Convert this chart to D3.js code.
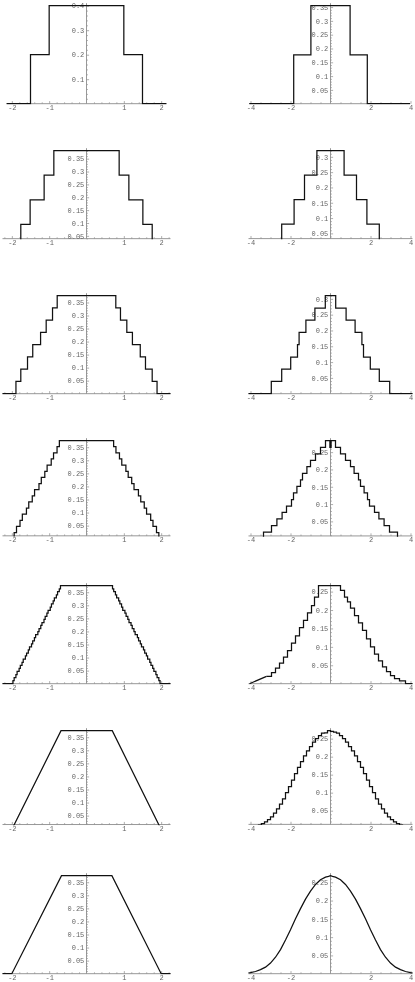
<!DOCTYPE html>
<html><head><meta charset="utf-8">
<script src="https://cdn.jsdelivr.net/npm/d3@7"></script>
<style>body{margin:0;background:#fff}svg{display:block;filter:grayscale(100%)}</style>
</head><body>
<svg id="c" width="415" height="982"></svg>
<script>
// ---------- tick labels ----------
const xTicksLeft = [-2, -1, 1, 2];
const xTicksRight = [-4, -2, 2, 4];
const yTicksRow1Left = [0.1, 0.2, 0.3, 0.4];
const yTicksStd = [0.05, 0.1, 0.15, 0.2, 0.25, 0.3, 0.35];

// ---------- where each x-axis crosses, per row ----------
const axisLevelLeft  = [0, 0.039, 0, 0.011, 0, 0.016, 0];
const axisLevelRight = [0, 0.033, 0, 0.008, 0, 0.012, 0];
const xExtentLeft  = [[-2.14, 2.14], [-2.25, 2.25], [-2.25, 2.25], [-2.25, 2.25], [-2.25, 2.25], [-2.25, 2.25], [-2.25, 2.25]];
const xExtentRight = [[-4.06, 3.98], [-4.1, 4.1], [-4.1, 4.1], [-4.1, 4.1], [-4.1, 4.1], [-4.1, 4.1], [-4.1, 4.1]];

// ---------- left column (step breakpoints x, level starting at x) ----------
const r1Lx = [-2.14, -1.5, -1, 1, 1.5, 2.14];
const r1Ly = [0, 0.2, 0.4, 0.2, 0, 0];
const r2Lx = [-2.25, -1.76, -1.51, -1.135, -0.875, 0.875, 1.135, 1.51, 1.76, 2.25];
const r2Ly = [0, 0.095, 0.19, 0.286, 0.381, 0.286, 0.19, 0.095, 0, 0];
const r3Lx = [-2.25, -1.89, -1.76, -1.58, -1.44, -1.23, -1.08, -0.91, -0.785, 0.785, 0.91, 1.08, 1.23, 1.44, 1.58, 1.76, 1.89, 2.25];
const r3Ly = [0, 0.047, 0.094, 0.141, 0.188, 0.235, 0.282, 0.329, 0.376, 0.329, 0.282, 0.235, 0.188, 0.141, 0.094, 0.047, 0, 0];
const r4Lx = [-2.25, -1.938, -1.875, -1.781, -1.719, -1.609, -1.547, -1.453, -1.391, -1.273, -1.211, -1.117, -1.055, -0.945, -0.883, -0.789, -0.727,
  0.727, 0.789, 0.883, 0.945, 1.055, 1.117, 1.211, 1.273, 1.391, 1.453, 1.547, 1.609, 1.719, 1.781, 1.875, 1.938, 2.25];
const r4Ly = [0, 0.023, 0.047, 0.070, 0.094, 0.117, 0.141, 0.164, 0.188, 0.211, 0.235, 0.258, 0.282, 0.305, 0.328, 0.352, 0.375,
  0.352, 0.328, 0.305, 0.282, 0.258, 0.235, 0.211, 0.188, 0.164, 0.141, 0.117, 0.094, 0.070, 0.047, 0.023, 0, 0];
const r5Lx = [-2.25, -1.969, -1.938, -1.891, -1.859, -1.805, -1.773, -1.727, -1.695, -1.637, -1.605, -1.559, -1.527, -1.473, -1.441, -1.395, -1.363,
  -1.303, -1.271, -1.225, -1.193, -1.139, -1.107, -1.061, -1.029, -0.971, -0.939, -0.893, -0.861, -0.807, -0.775, -0.729, -0.697,
  0.697, 0.729, 0.775, 0.807, 0.861, 0.893, 0.939, 0.971, 1.029, 1.061, 1.107, 1.139, 1.193, 1.225, 1.271, 1.303,
  1.363, 1.395, 1.441, 1.473, 1.527, 1.559, 1.605, 1.637, 1.695, 1.727, 1.773, 1.805, 1.859, 1.891, 1.938, 1.969, 2.25];
const r5Ly = [0, 0.012, 0.023, 0.035, 0.047, 0.059, 0.070, 0.082, 0.094, 0.106, 0.117, 0.129, 0.141, 0.152, 0.164, 0.176, 0.188,
  0.199, 0.211, 0.223, 0.234, 0.246, 0.258, 0.270, 0.281, 0.293, 0.305, 0.317, 0.328, 0.340, 0.352, 0.363, 0.375,
  0.363, 0.352, 0.340, 0.328, 0.317, 0.305, 0.293, 0.281, 0.270, 0.258, 0.246, 0.234, 0.223, 0.211, 0.199, 0.188,
  0.176, 0.164, 0.152, 0.141, 0.129, 0.117, 0.106, 0.094, 0.082, 0.070, 0.059, 0.047, 0.035, 0.023, 0.012, 0, 0];
const r6Lx = [-2.25, -1.99, -0.683, 0.69, 1.99, 2.25];
const r6Ly = [0, 0, 0.375, 0.375, 0, 0];
const r7Lx = [-2.25, -2.0, -0.67, 0.68, 2.0, 2.25];
const r7Ly = [0, 0, 0.375, 0.375, 0, 0];

// ---------- right column ----------
const r1Rx = [-4.06, -1.84, -0.98, 0.98, 1.84, 3.98];
const r1Ry = [0, 0.177, 0.355, 0.177, 0, 0];
const r2Rx = [-4.1, -2.44, -1.82, -1.30, -0.68, 0.68, 1.30, 1.82, 2.44, 4.1];
const r2Ry = [0, 0.08, 0.16, 0.24, 0.32, 0.24, 0.16, 0.08, 0, 0];
const r3Rx = [-4.1, -2.96, -2.44, -1.99, -1.65, -1.57, -1.23, -0.78, -0.26, 0.26, 0.78, 1.23, 1.57, 1.65, 1.99, 2.44, 2.96, 4.1];
const r3Ry = [0, 0.039, 0.078, 0.116, 0.155, 0.194, 0.233, 0.271, 0.31, 0.271, 0.233, 0.194, 0.155, 0.116, 0.078, 0.039, 0, 0];
const r4Rx = [-4.1, -3.35, -2.95, -2.68, -2.42, -2.2, -1.95, -1.85, -1.68, -1.5, -1.4, -1.18, -1.0, -0.75, -0.5, -0.25, -0.03,
  0.03, 0.25, 0.5, 0.75, 1.0, 1.18, 1.4, 1.5, 1.68, 1.85, 1.95, 2.2, 2.42, 2.68, 2.95, 3.35, 4.1];
const r4Ry = [0, 0.019, 0.038, 0.057, 0.076, 0.094, 0.113, 0.132, 0.151, 0.17, 0.189, 0.208, 0.226, 0.245, 0.264, 0.283, 0.264,
  0.283, 0.264, 0.245, 0.226, 0.208, 0.189, 0.17, 0.151, 0.132, 0.113, 0.094, 0.076, 0.057, 0.038, 0.019, 0, 0];
const r5RtailX = [-4.05, -3.2];
const r5RtailY = [0, 0.02];
const r5Rx = [-3.2, -2.95, -2.75, -2.55, -2.35, -2.15, -1.95, -1.75, -1.55, -1.35, -1.15, -0.95, -0.8, -0.6,
  0.5, 0.7, 0.85, 1.0, 1.2, 1.4, 1.6, 1.8, 2.0, 2.2, 2.4, 2.6, 2.8, 3.0, 3.2, 3.45, 3.75, 4.1];
const r5Ry = [0.02, 0.03, 0.042, 0.056, 0.072, 0.09, 0.11, 0.13, 0.152, 0.172, 0.192, 0.212, 0.235, 0.266,
  0.253, 0.235, 0.222, 0.205, 0.185, 0.165, 0.145, 0.122, 0.1, 0.08, 0.062, 0.046, 0.033, 0.022, 0.014, 0.008, 0, 0];
const r6Rx = [-4.1, -3.9, -3.75, -3.6, -3.45, -3.3, -3.15, -3.0, -2.85, -2.7, -2.55, -2.4, -2.25, -2.1, -1.95, -1.8, -1.65, -1.5,
  -1.35, -1.2, -1.05, -0.9, -0.75, -0.6, -0.45, -0.3, -0.15, 0, 0.15, 0.3, 0.45, 0.6, 0.75, 0.9, 1.05, 1.2, 1.35, 1.5,
  1.65, 1.8, 1.95, 2.1, 2.25, 2.4, 2.55, 2.7, 2.85, 3.0, 3.15, 3.3, 3.45, 3.6, 3.75, 3.9, 4.1];
const r6Ry = [0.003, 0.005, 0.007, 0.010, 0.014, 0.019, 0.025, 0.033, 0.043, 0.055, 0.068, 0.083, 0.1, 0.117, 0.135, 0.153, 0.17, 0.186,
  0.202, 0.216, 0.228, 0.24, 0.25, 0.258, 0.265, 0.266, 0.272, 0.27, 0.268, 0.265, 0.258, 0.25, 0.24, 0.228, 0.216, 0.202, 0.186, 0.17,
  0.153, 0.135, 0.117, 0.1, 0.083, 0.068, 0.055, 0.043, 0.033, 0.025, 0.019, 0.014, 0.010, 0.007, 0.005, 0.003, 0.003];
const r7Rx = [-4.1, -4.0, -3.75, -3.5, -3.25, -3.0, -2.75, -2.5, -2.25, -2.0, -1.75, -1.5, -1.25, -1.0, -0.75, -0.5, -0.25, -0.1, 0,
  0.1, 0.25, 0.5, 0.75, 1.0, 1.25, 1.5, 1.75, 2.0, 2.25, 2.5, 2.75, 3.0, 3.25, 3.5, 3.75, 4.0, 4.1];
const r7Ry = [0.002, 0.003, 0.006, 0.011, 0.018, 0.029, 0.045, 0.066, 0.092, 0.12, 0.15, 0.178, 0.204, 0.226, 0.244, 0.257, 0.264, 0.266, 0.268,
  0.266, 0.264, 0.257, 0.244, 0.226, 0.204, 0.178, 0.15, 0.12, 0.092, 0.066, 0.045, 0.029, 0.018, 0.011, 0.006, 0.003, 0.002];

// ---------- panel table ----------
const leftSeries = [[r1Lx, r1Ly, 'step'], [r2Lx, r2Ly, 'step'], [r3Lx, r3Ly, 'step'], [r4Lx, r4Ly, 'step'],
  [r5Lx, r5Ly, 'step'], [r6Lx, r6Ly, 'linear'], [r7Lx, r7Ly, 'linear']];
const rightSeries = [[r1Rx, r1Ry, 'step'], [r2Rx, r2Ry, 'step'], [r3Rx, r3Ry, 'step'], [r4Rx, r4Ry, 'step'],
  [r5Rx, r5Ry, 'step'], [r6Rx, r6Ry, 'step'], [r7Rx, r7Ry, 'linear']];

const panels = [];
for (let r = 0; r < 7; r++) {
  panels.push({col: 0, row: r, xs: leftSeries[r][0], ys: leftSeries[r][1], kind: leftSeries[r][2],
    axisLevel: axisLevelLeft[r], xExt: xExtentLeft[r], xTicks: xTicksLeft, minorX: 0.2,
    yTicks: r === 0 ? yTicksRow1Left : yTicksStd, minorY: r === 0 ? 0.02 : 0.01});
  panels.push({col: 1, row: r, xs: rightSeries[r][0], ys: rightSeries[r][1], kind: rightSeries[r][2],
    axisLevel: axisLevelRight[r], xExt: xExtentRight[r], xTicks: xTicksRight, minorX: 0.5,
    yTicks: yTicksStd, minorY: 0.01,
    tail: r === 4 ? [r5RtailX, r5RtailY] : null});
}

// ---------- drawing ----------
const svg = d3.select('#c');
const ROW_TOP0 = 5.7, ROW_PITCH = 145, PLOT_H = 98;
const AXIS_COLOR = '#8c8c8c', LABEL_COLOR = '#666666';
const FONT = '"Liberation Mono", "DejaVu Sans Mono", monospace';

function styleAxis(g) {
  g.select('.domain').remove();
  g.selectAll('.tick line').attr('stroke', AXIS_COLOR).attr('stroke-width', 0.7);
  g.selectAll('.tick text').attr('fill', LABEL_COLOR).attr('font-family', FONT).attr('font-size', 7);
}

panels.forEach((p, i) => {
  const top = ROW_TOP0 + ROW_PITCH * p.row;
  const x = p.col === 0
    ? d3.scaleLinear().domain([-2, 2]).range([11.84, 161.16])
    : d3.scaleLinear().domain([-4, 4]).range([250.5, 410.5]);
  const yMax = d3.max(p.ys);
  const y = d3.scaleLinear().domain([0, yMax]).range([top + PLOT_H, top]);
  const ya = y(p.axisLevel);
  const g = svg.append('g');

  // axis lines
  g.append('line').attr('x1', x(p.xExt[0])).attr('x2', x(p.xExt[1])).attr('y1', ya).attr('y2', ya)
    .attr('stroke', AXIS_COLOR).attr('stroke-width', 0.9);
  g.append('line').attr('x1', x(0)).attr('x2', x(0)).attr('y1', ya).attr('y2', top - 2.5)
    .attr('stroke', AXIS_COLOR).attr('stroke-width', 0.9);

  // x minor ticks
  const xMinor = d3.range(Math.ceil(p.xExt[0] / p.minorX), Math.floor(p.xExt[1] / p.minorX) + 1)
    .map(k => +(k * p.minorX).toFixed(3)).filter(v => v !== 0 && !p.xTicks.includes(v));
  g.append('g').attr('transform', `translate(0,${ya})`)
    .call(d3.axisBottom(x).tickValues(xMinor).tickSize(-1.4).tickFormat(''))
    .call(styleAxis);
  // x major ticks + labels
  g.append('g').attr('transform', `translate(0,${ya})`)
    .call(d3.axisBottom(x).tickValues(p.xTicks).tickSize(-2.6).tickPadding(1.2).tickFormat(d => String(d)))
    .call(styleAxis);

  // y minor ticks
  const yMinor = d3.range(Math.ceil(p.axisLevel / p.minorY + 1e-6), Math.floor(yMax / p.minorY + 1e-6) + 1)
    .map(k => +(k * p.minorY).toFixed(3)).filter(v => !p.yTicks.includes(v));
  g.append('g').attr('transform', `translate(${x(0)},0)`)
    .call(d3.axisLeft(y).tickValues(yMinor).tickSize(-1.4).tickFormat(''))
    .call(styleAxis);
  const yMajor = p.yTicks.filter(v => v > p.axisLevel && v <= yMax + 1e-6);
  g.append('g').attr('transform', `translate(${x(0)},0)`)
    .call(d3.axisLeft(y).tickValues(yMajor).tickSize(-2.6).tickPadding(2.2).tickFormat(d => String(d)))
    .call(styleAxis);

  // clip below axis level
  const cid = 'clip' + i;
  svg.append('clipPath').attr('id', cid).append('rect')
    .attr('x', x(p.xExt[0]) - 2).attr('width', x(p.xExt[1]) - x(p.xExt[0]) + 4)
    .attr('y', top - 3).attr('height', ya - top + 3.7);

  const data = p.xs.map((v, k) => [v, p.ys[k]]);
  const line = d3.line().x(d => x(d[0])).y(d => y(d[1]))
    .curve(p.kind === 'step' ? d3.curveStepAfter : d3.curveLinear);
  const cg = g.append('g').attr('clip-path', `url(#${cid})`);
  cg.append('path').attr('d', line(data)).attr('fill', 'none')
    .attr('stroke', '#111').attr('stroke-width', 1.25).attr('stroke-linejoin', 'miter');
  if (p.tail) {
    const t = p.tail[0].map((v, k) => [v, p.tail[1][k]]);
    cg.append('path').attr('d', d3.line().x(d => x(d[0])).y(d => y(d[1]))(t)).attr('fill', 'none')
      .attr('stroke', '#111').attr('stroke-width', 1.25);
  }
});
</script>
</body></html>
